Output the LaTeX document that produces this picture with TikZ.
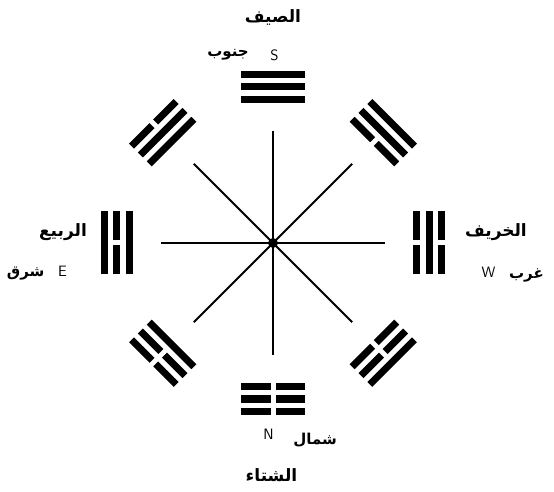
\documentclass[tikz,border=0pt]{standalone}
\usepackage{fontspec}
\newfontfamily\arabicfont[Script=Arabic]{DejaVu Sans}
\TeXXeTstate=1
\usepackage{tikz}
\usetikzlibrary{positioning}

% one bar of a trigram: #1 = distance from the centre, #2 = 1 solid, 0 broken
\newcommand{\trigbar}[2]{%
  \ifnum#2=1 \draw[bar] (-31.5,#1) -- (31.5,#1);%
  \else \draw[bar] (-31.5,#1) -- (-2.5,#1); \draw[bar] (2.5,#1) -- (31.5,#1);\fi}
% a trigram facing direction #1, lines from inside out: #2 #3 #4
\newcommand{\trigram}[4]{%
  \begin{scope}[rotate=#1-90]
    \trigbar{143.5}{#2}\trigbar{156}{#3}\trigbar{168.5}{#4}
  \end{scope}}

\begin{document}
\begin{tikzpicture}[x=1pt, y=1pt,
  bar/.style={line width=7pt},
  ray/.style={line width=2pt},
  season/.style={font=\arabicfont\bfseries\fontsize{17}{19}\selectfont},
  dirword/.style={font=\arabicfont\bfseries\fontsize{15}{17}\selectfont},
  letter/.style={font=\sffamily\fontsize{15}{17}\selectfont, inner sep=0pt},
]
  \useasboundingbox (-273,-249) rectangle (281,243);

  \node[circle, fill, inner sep=0pt, minimum size=10pt] (mid) at (0,0) {};
  \coordinate (rS)  at (90:112);
  \coordinate (rSW) at (45:112);
  \coordinate (rW)  at (0:112);
  \coordinate (rNW) at (-45:112);
  \coordinate (rN)  at (-90:112);
  \coordinate (rNE) at (-135:112);
  \coordinate (rE)  at (180:112);
  \coordinate (rSE) at (135:112);
  \draw[ray] (rN) -- (mid.center) -- (rS);
  \draw[ray] (rE) -- (mid.center) -- (rW);
  \draw[ray] (rNE) -- (mid.center) -- (rSW);
  \draw[ray] (rSE) -- (mid.center) -- (rNW);

  % the eight trigrams
  \trigram{90}{1}{1}{1}
  \trigram{45}{0}{1}{1}
  \trigram{0}{0}{1}{0}
  \trigram{-45}{0}{0}{1}
  \trigram{-90}{0}{0}{0}
  \trigram{-135}{1}{0}{0}
  \trigram{180}{1}{0}{1}
  \trigram{135}{1}{1}{0}

  % labels
  \node[season] (summer) at (0,226) {\beginR الصيف\endR};
  \node[letter] (south) at (1.5,188) {S};
  \node[dirword, left=18pt of south] (southW) {\beginR جنوب\endR};

  \node[season] (spring) at (-210,11) {\beginR الربيع\endR};
  \node[letter] (east) at (-210.5,-28) {E};
  \node[dirword, left=10pt of east, yshift=-3pt] (eastW) {\beginR شرق\endR};

  \node[season] (autumn) at (223,11) {\beginR الخريف\endR};
  \node[letter] (west) at (215.5,-29.5) {W};
  \node[dirword, right=10pt of west, yshift=-3pt] (westW) {\beginR غرب\endR};

  \node[letter] (north) at (-4.5,-191) {N};
  \node[dirword, right=16pt of north, yshift=-6pt] (northW) {\beginR شمال\endR};
  \node[season] (winter) at (-1.5,-232) {\beginR الشتاء\endR};
\end{tikzpicture}
\end{document}
